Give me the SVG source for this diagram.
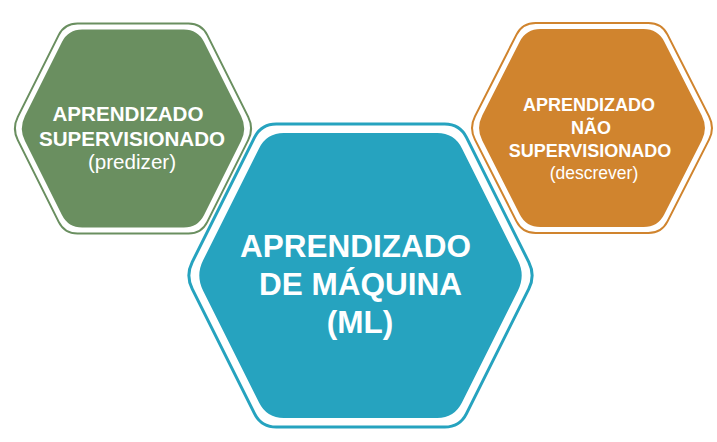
<svg xmlns="http://www.w3.org/2000/svg" width="717" height="442" viewBox="0 0 717 442">
<style>
.t{font-family:"Liberation Sans",Arial,sans-serif;fill:#FFFFFF;text-anchor:middle}
.b{font-weight:bold}
.ol{fill:none}
</style>
<defs>
<path id="hexS" d="M -55.5,-105 L 55.5,-105 Q 68.5,-105 74.31,-93.38 L 115.19,-11.62 Q 121,0 115.19,11.62 L 74.31,93.38 Q 68.5,105 55.5,105 L -55.5,105 Q -68.5,105 -74.31,93.38 L -115.19,11.62 Q -121,0 -115.19,-11.62 L -74.31,-93.38 Q -68.5,-105 -55.5,-105 Z"/>
<path id="hexSf" d="M -50.8,-99 L 50.8,-99 Q 64.8,-99 71.06,-86.48 L 108.04,-12.52 Q 114.3,0 108.04,12.52 L 71.06,86.48 Q 64.8,99 50.8,99 L -50.8,99 Q -64.8,99 -71.06,86.48 L -108.04,12.52 Q -114.3,0 -108.04,-12.52 L -71.06,-86.48 Q -64.8,-99 -50.8,-99 Z"/>
</defs>
<rect width="717" height="442" fill="#FFFFFF"/>
<g id="supervisionado">
<use href="#hexS" x="133" y="128.5" class="ol" stroke="#6A8F60" stroke-width="2"/>
<use href="#hexSf" x="133" y="128.5" fill="#6A8F60"/>
<text class="t b" x="128" y="121" font-size="20.6">APRENDIZADO</text>
<text class="t b" x="132" y="146" font-size="20.6">SUPERVISIONADO</text>
<text class="t" x="132" y="169" font-size="20.6">(predizer)</text>
</g>
<g id="nao-supervisionado">
<g transform="translate(592,128) scale(1.016,1)">
<use href="#hexS" class="ol" stroke="#D0842E" stroke-width="2"/>
<use href="#hexSf" fill="#D0842E"/>
</g>
<text class="t b" x="589" y="111" font-size="18">APRENDIZADO</text>
<text class="t b" x="591" y="134" font-size="18">NÃO</text>
<text class="t b" x="590" y="156.5" font-size="18">SUPERVISIONADO</text>
<text class="t" x="594" y="179" font-size="17.5">(descrever)</text>
</g>
<g id="ml">
<path transform="translate(360.5,275.5)" class="ol" stroke="#26A3BF" stroke-width="3" d="M -84.25,-151.5 L 84.25,-151.5 Q 99.25,-151.5 105.96,-138.09 L 168.29,-13.41 Q 175,0 168.29,13.41 L 105.96,138.09 Q 99.25,151.5 84.25,151.5 L -84.25,151.5 Q -99.25,151.5 -105.96,138.09 L -168.29,13.41 Q -175,0 -168.29,-13.41 L -105.96,-138.09 Q -99.25,-151.5 -84.25,-151.5 Z"/>
<path transform="translate(360.5,275.5)" fill="#26A3BF" d="M -76.75,-142.5 L 76.75,-142.5 Q 93.75,-142.5 101.35,-127.3 L 157.4,-15.2 Q 165,0 157.4,15.2 L 101.35,127.3 Q 93.75,142.5 76.75,142.5 L -76.75,142.5 Q -93.75,142.5 -101.35,127.3 L -157.4,15.2 Q -165,0 -157.4,-15.2 L -101.35,-127.3 Q -93.75,-142.5 -76.75,-142.5 Z"/>
<text class="t b" x="355.5" y="256.5" font-size="31.5">APRENDIZADO</text>
<text class="t b" x="360.5" y="295" font-size="31.5">DE MÁQUINA</text>
<text class="t b" x="360" y="333" font-size="31.5">(ML)</text>
</g>
<g id="connectors"></g>
</svg>
